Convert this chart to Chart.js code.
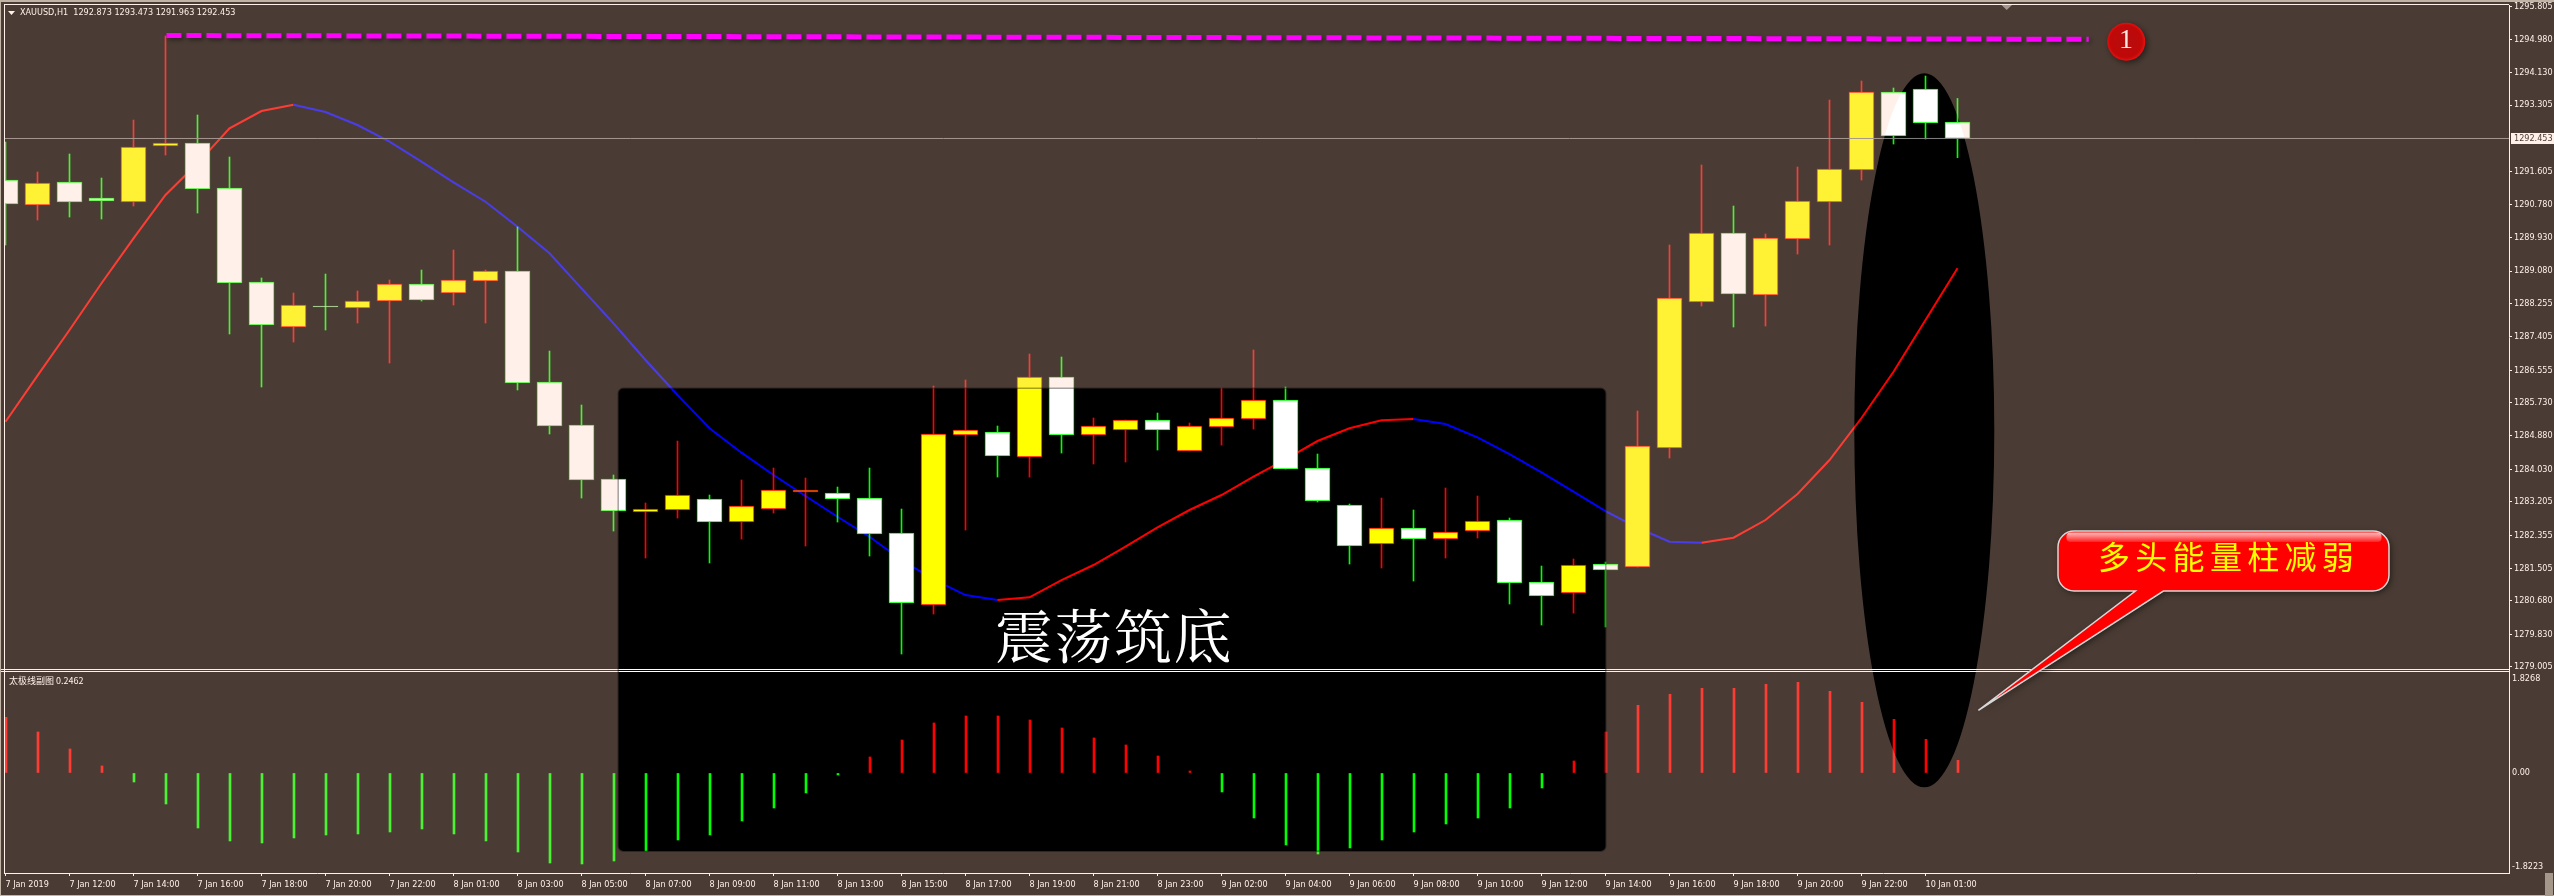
<!DOCTYPE html>
<html><head><meta charset="utf-8">
<style>html,body{margin:0;padding:0;background:#000;overflow:hidden}canvas{display:block}</style>
<script src="https://cdn.jsdelivr.net/npm/chart.js@4"></script></head>
<body><canvas id="c" width="2554" height="896"></canvas>
<script>
const symbolTitle = "XAUUSD,H1  1292.873 1293.473 1291.963 1292.453";
const indicatorTitle = "太极线副图 0.2462";
const boxNote = "震荡筑底";
const calloutNote = "多头能量柱减弱";
const badgeNote = "1";
const lastPrice = 1292.453;
const lastPriceLabel = "1292.453";

const timeLabels = ["7 Jan 2019","7 Jan 12:00","7 Jan 14:00","7 Jan 16:00","7 Jan 18:00","7 Jan 20:00","7 Jan 22:00",
"8 Jan 01:00","8 Jan 03:00","8 Jan 05:00","8 Jan 07:00","8 Jan 09:00","8 Jan 11:00","8 Jan 13:00","8 Jan 15:00","8 Jan 17:00","8 Jan 19:00","8 Jan 21:00","8 Jan 23:00",
"9 Jan 02:00","9 Jan 04:00","9 Jan 06:00","9 Jan 08:00","9 Jan 10:00","9 Jan 12:00","9 Jan 14:00","9 Jan 16:00","9 Jan 18:00","9 Jan 20:00","9 Jan 22:00","10 Jan 01:00"];

const priceTicks = [1295.805,1294.980,1294.130,1293.305,1291.605,1290.780,1289.930,1289.080,1288.255,1287.405,1286.555,1285.730,1284.880,1284.030,1283.205,1282.355,1281.505,1280.680,1279.830,1279.005];
const oscTicks = [1.8268,0,-1.8223];

const opens = [1291.396,1290.760,1291.345,1290.938,1290.836,1292.262,1292.338,1291.192,1288.800,1287.654,1288.189,1288.138,1288.316,1288.749,1288.520,1288.825,1289.080,1286.254,1285.160,1283.785,
1282.945,1282.996,1283.276,1282.690,1283.021,1283.454,1283.429,1283.301,1282.410,1280.578,1284.905,1284.981,1284.345,1286.381,1284.905,1285.032,1285.287,1284.498,1285.109,1285.312,
1285.796,1284.065,1283.123,1282.130,1282.538,1282.258,1282.461,1282.741,1281.163,1280.883,1281.621,1281.545,1284.574,1288.291,1290.047,1288.469,1289.894,1290.836,1291.651,1293.636,1293.713,1292.873];
const highs = [1292.363,1291.600,1292.058,1291.447,1292.923,1295.062,1293.051,1291.982,1288.902,1288.520,1289.003,1288.571,1288.851,1289.105,1289.614,1289.105,1290.200,1287.043,1285.669,1283.887,
1283.174,1284.752,1283.378,1283.760,1284.065,1283.811,1283.581,1284.065,1283.021,1286.152,1286.305,1285.134,1286.967,1286.891,1285.338,1285.287,1285.465,1285.211,1286.101,1287.069,
1286.127,1284.421,1283.149,1283.301,1282.996,1283.556,1283.352,1282.792,1281.570,1281.749,1281.672,1285.516,1289.742,1291.778,1290.734,1290.022,1291.727,1293.432,1293.916,1293.738,1294.043,1293.473];
const lows = [1289.742,1290.378,1290.454,1290.403,1290.734,1292.032,1290.556,1287.476,1286.127,1287.272,1287.578,1287.756,1286.738,1288.316,1288.214,1287.756,1286.051,1284.931,1283.301,1282.461,
1281.774,1282.792,1281.647,1282.258,1282.920,1282.080,1282.690,1281.825,1279.330,1280.349,1282.487,1283.836,1283.836,1284.447,1284.167,1284.218,1284.523,1284.498,1284.651,1285.058,
1284.040,1283.200,1281.621,1281.520,1281.189,1281.774,1282.283,1280.603,1280.069,1280.374,1280.018,1281.545,1284.320,1288.189,1287.654,1287.680,1289.512,1289.742,1291.396,1292.312,1292.440,1291.963];
const closes = [1290.785,1291.320,1290.836,1290.862,1292.236,1292.338,1291.167,1288.774,1287.705,1288.214,1288.163,1288.316,1288.749,1288.341,1288.851,1289.080,1286.229,1285.134,1283.760,1282.970,
1283.021,1283.378,1282.690,1283.098,1283.505,1283.505,1283.276,1282.385,1280.629,1284.931,1285.032,1284.371,1286.381,1284.905,1285.134,1285.287,1285.032,1285.134,1285.338,1285.796,
1284.040,1283.225,1282.080,1282.538,1282.258,1282.436,1282.716,1281.138,1280.807,1281.596,1281.469,1284.625,1288.392,1290.047,1288.494,1289.920,1290.862,1291.676,1293.636,1292.516,1292.847,1292.453];

const maLine = [1285.244,1286.415,1287.578,1288.767,1289.912,1291.014,1291.821,1292.712,1293.152,1293.313,1293.127,1292.796,1292.371,1291.862,1291.338,1290.844,1290.207,1289.530,1288.639,1287.748,
1286.814,1285.923,1285.076,1284.455,1283.887,1283.352,1282.825,1282.316,1281.723,1281.232,1280.832,1280.705,1280.774,1281.214,1281.596,1282.062,1282.555,1282.996,1283.378,1283.844,
1284.287,1284.752,1285.076,1285.279,1285.312,1285.185,1284.846,1284.421,1283.956,1283.462,1282.970,1282.545,1282.189,1282.164,1282.291,1282.741,1283.403,1284.269,1285.338,1286.516,1287.832,1289.148];

const oscillator = [1.081,0.796,0.466,0.136,-0.175,-0.602,-1.068,-1.320,-1.359,-1.262,-1.204,-1.184,-1.146,-1.087,-1.184,-1.320,-1.534,-1.748,-1.767,-1.709,
-1.515,-1.301,-1.204,-0.932,-0.680,-0.388,-0.039,0.311,0.641,0.971,1.107,1.107,1.029,0.874,0.680,0.544,0.330,0.039,-0.369,-0.874,
-1.398,-1.573,-1.456,-1.301,-1.146,-0.990,-0.874,-0.680,-0.291,0.233,0.796,1.314,1.528,1.644,1.644,1.722,1.760,1.586,1.372,1.042,0.654,0.2462];

const levelBars = [5.03,65.1];
const levelPrices = [1295.074,1294.978];
const axisBars = [-0.046875,78.234375];

const RED='#ff0000',GREEN='#00ff00',BLUE='#0000ff',YELLOW='#ffff00',WHITE='#ffffff';
const idx = opens.map((_,i)=>i);
const isUp = i => closes[i] >= opens[i];

const TICK_FAMILY = "DejaVu Sans Condensed";
const fontTick = "9px '"+TICK_FAMILY+"'";
const fitY = s => { s.width = 45; s.paddingTop = s.paddingBottom = 0; };
const fitX = s => { s.height = 23; s.paddingLeft = s.paddingRight = 0; };

function holes(ctx){
  ctx.roundRect(618.5,388.5,987,462.5,5);
  ctx.moveTo(1994.3,430.3);
  ctx.ellipse(1924.3,430.3,70,357,0,0,Math.PI*2);
}

const wash = {
  id:'wash',
  beforeDraw(chart){
    const c=chart.ctx; c.save(); c.fillStyle='#000'; c.fillRect(0,0,chart.width,chart.height); c.restore();
  },
  beforeDatasetDraw(chart,args){
    if(chart.data.datasets[args.index].label==='level'){
      const c=chart.ctx; c.save();
      c.shadowColor='rgba(0,0,0,0.45)'; c.shadowBlur=4; c.shadowOffsetX=2; c.shadowOffsetY=2;
    }
  },
  afterDatasetDraw(chart,args){
    const label=chart.data.datasets[args.index].label;
    const c=chart.ctx;
    if(label==='level'){ c.restore(); return; }
    if(label!=='last') return;
    const W=chart.width,H=chart.height;
    c.save();
    // panel frame
    c.fillStyle='#fff';
    c.fillRect(4,4,2505,1);
    c.fillRect(4,4,1,869);
    c.fillRect(0,669,2509,1);
    c.fillRect(0,671,2509,1);
    // texts of the chart window
    c.fillStyle='#fff';
    c.font=fontTick;
    c.textBaseline='middle'; c.textAlign='left';
    c.fillText(symbolTitle,20,12.5);
    c.beginPath(); c.moveTo(8,11); c.lineTo(15,11); c.lineTo(11.5,15); c.closePath(); c.fill();
    c.font="9px 'Noto Sans CJK SC','DejaVu Sans Condensed'";
    c.fillText(indicatorTitle,9,681);
    c.fillStyle='#808080';
    c.beginPath(); c.moveTo(2001.5,5); c.lineTo(2012,5); c.lineTo(2006.7,10); c.closePath(); c.fill();
    // last price tag
    const yScale=chart.scales.y, py=yScale.getPixelForValue(lastPrice);
    c.fillStyle='#fff'; c.fillRect(2511,py-5.5,43,11);
    c.fillStyle='#000'; c.font=fontTick; c.fillText(lastPriceLabel,2514,py+0.5);
    // window edges
    c.fillStyle='#a8a8a0'; c.fillRect(0,0,W,2); c.fillRect(0,0,1,H); c.fillRect(0,H-1,W,1);
    c.fillStyle='#808078'; c.fillRect(2545,873,8,23);
    // brown wash, leaving the black shapes open
    c.fillStyle='rgba(255,207,179,0.29)';
    c.beginPath(); c.rect(0,0,W,H); holes(c); c.fill('evenodd');
    c.strokeStyle='rgba(0,0,0,0.35)'; c.lineWidth=1.5;
    c.beginPath(); c.roundRect(618.2,388.2,987.6,463,5); c.stroke();
    c.restore();
  },
  afterDraw(chart){
    const c=chart.ctx;
    c.save();
    // note in the black box
    c.fillStyle='#fff'; c.textAlign='left'; c.textBaseline='middle';
    c.font="58px 'Noto Serif CJK SC','Noto Sans CJK SC'";
    [...boxNote].forEach((ch,i)=>c.fillText(ch,995+i*59.5,636));
    // badge
    c.save();
    c.shadowColor='rgba(0,0,0,0.5)'; c.shadowBlur=6; c.shadowOffsetX=2; c.shadowOffsetY=2;
    const g=c.createRadialGradient(2126,40,4,2126,41.7,19);
    g.addColorStop(0,'#b80c0c'); g.addColorStop(0.8,'#c00808'); g.addColorStop(1,'#e81010');
    c.fillStyle=g; c.beginPath(); c.arc(2126.3,41.7,19,0,Math.PI*2); c.fill();
    c.restore();
    c.fillStyle='#ffe8e0'; c.textAlign='center'; c.font="28px 'Liberation Serif'";
    c.fillText(badgeNote,2126,41);
    // callout
    const L=2058,R=2389,T=531,B=591,r=16;
    c.save();
    c.shadowColor='rgba(0,0,0,0.5)'; c.shadowBlur=6; c.shadowOffsetX=2; c.shadowOffsetY=2;
    c.beginPath();
    c.moveTo(L+r,T); c.lineTo(R-r,T); c.arcTo(R,T,R,T+r,r); c.lineTo(R,B-r); c.arcTo(R,B,R-r,B,r);
    c.lineTo(2163.4,B); c.lineTo(1978.4,710.3); c.lineTo(2135.4,B);
    c.lineTo(L+r,B); c.arcTo(L,B,L,B-r,r); c.lineTo(L,T+r); c.arcTo(L,T,L+r,T,r); c.closePath();
    c.fillStyle='#ff0000'; c.fill();
    c.restore();
    c.strokeStyle='#d8d8d8'; c.lineWidth=1.5; c.stroke();
    const g2=c.createLinearGradient(0,532,0,542);
    g2.addColorStop(0,'#ffc8c8'); g2.addColorStop(1,'#ff2020');
    c.fillStyle=g2; c.beginPath(); c.roundRect(2066.5,532.5,315,9.5,4); c.fill();
    c.fillStyle='#ffff00'; c.textAlign='center';
    c.font="32px 'Noto Sans CJK SC'";
    [...calloutNote].forEach((ch,i)=>c.fillText(ch,2114+i*37.3,557));
    c.restore();
  }
};

new Chart(document.getElementById('c').getContext('2d'),{
  plugins:[wash],
  data:{datasets:[
    {type:'line',label:'ma',order:6,yAxisID:'y',
     data:idx.map(i=>({x:i,y:maLine[i]})),
     pointRadius:0,borderWidth:2,tension:0,borderColor:RED,
     segment:{borderColor:c=>c.p1.parsed.y>=c.p0.parsed.y?RED:BLUE}},
    {type:'bar',label:'wicks',order:5,yAxisID:'y',grouped:false,barThickness:1,
     data:idx.map(i=>({x:i,y:[lows[i],highs[i]]})),
     backgroundColor:c=>isUp(c.dataIndex)?RED:GREEN,borderWidth:0},
    {type:'bar',label:'bodies',order:4,yAxisID:'y',grouped:false,barThickness:25,
     data:idx.map(i=>({x:i,y:[opens[i],closes[i]]})),
     backgroundColor:c=>isUp(c.dataIndex)?YELLOW:WHITE,
     borderColor:c=>isUp(c.dataIndex)?RED:GREEN,borderWidth:1,borderSkipped:false},
    {type:'bar',label:'osc',order:3,yAxisID:'y2',grouped:false,barThickness:2,
     data:idx.map(i=>({x:i+0.015625,y:oscillator[i]})),
     backgroundColor:c=>oscillator[c.dataIndex]>=0?RED:GREEN,borderWidth:0},
    {type:'line',label:'last',order:1,yAxisID:'y',
     data:axisBars.map(x=>({x,y:lastPrice})),
     pointRadius:0,borderWidth:1,borderColor:'#808080'},
    {type:'line',label:'level',order:0,yAxisID:'y',
     data:levelBars.map((x,k)=>({x,y:levelPrices[k]})),
     pointRadius:0,borderWidth:5,borderColor:'#ff00ff',borderDash:[15,5]}
  ]},
  options:{
    responsive:false,animation:false,
    events:[],
    layout:{padding:{left:4,top:5,right:0,bottom:0}},
    plugins:{legend:{display:false},tooltip:{enabled:false}},
    scales:{
      x:{type:'linear',position:'bottom',offset:false,min:axisBars[0],max:axisBars[1],
         afterBuildTicks:s=>{s.ticks=timeLabels.map((_,k)=>({value:k*2}));},
         afterFit:fitX,
         grid:{offset:false,drawOnChartArea:false,tickLength:3,tickColor:'#fff'},
         border:{color:'#fff',width:1},
         ticks:{autoSkip:false,maxRotation:0,align:'start',padding:3,color:'#fff',font:{family:TICK_FAMILY,size:9},
                callback:v=>timeLabels[Math.round(v/2)]}},
      y:{type:'linear',position:'right',stack:'panes',stackWeight:664,
         min:1278.949,max:1295.851,
         afterBuildTicks:s=>{s.ticks=priceTicks.map(v=>({value:v}));},
         afterFit:fitY,
         grid:{drawOnChartArea:false,tickLength:3,tickColor:'#fff'},
         border:{color:'#fff',width:1},
         ticks:{autoSkip:false,padding:2,color:'#fff',font:{family:TICK_FAMILY,size:9},callback:v=>v.toFixed(3)}},
      y2:{type:'linear',position:'right',stack:'panes',stackWeight:204,
         min:-1.942,max:2.019,
         afterBuildTicks:s=>{s.ticks=oscTicks.map(v=>({value:v}));},
         afterFit:fitY,
         grid:{drawOnChartArea:false,tickLength:0,tickColor:'#fff'},
         border:{color:'#fff',width:1},
         ticks:{autoSkip:false,padding:3,color:'#fff',font:{family:TICK_FAMILY,size:9},callback:v=>v===0?'0.00':String(v)}}
    }
  }
});
</script></body></html>
